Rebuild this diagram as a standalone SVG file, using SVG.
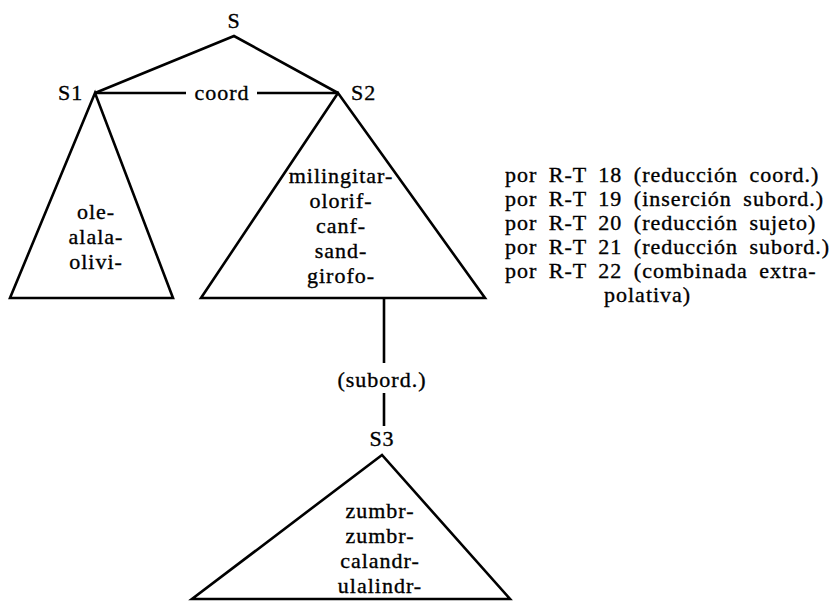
<svg xmlns="http://www.w3.org/2000/svg" width="836" height="603" viewBox="0 0 836 603" font-family="'Liberation Serif', 'DejaVu Serif', 'Times New Roman', serif">
  <style>
    text { font-family: 'Liberation Serif', 'DejaVu Serif', 'Times New Roman', serif; font-size: 22px; fill: #000; stroke: #000; stroke-width: 0.35px; letter-spacing: 1px; }
    .mid { text-anchor: middle; }
    .edge, .tri { fill: none; stroke: #000; stroke-width: 2.6; stroke-linejoin: miter; stroke-linecap: butt; }
    .tri { fill: #fff; }
    .rule { word-spacing: 5px; }
  </style>
  <rect width="836" height="603" fill="#fff"/>

  <!-- tree edges -->
  <g id="connectors">
    <polyline class="edge" points="95,93 234,36 338,93"/>
    <line class="edge" x1="95" y1="93" x2="186" y2="93"/>
    <line class="edge" x1="257" y1="93" x2="338" y2="93"/>
    <text class="mid" x="222" y="100">coord</text>
    <line class="edge" x1="384" y1="298" x2="384" y2="363"/>
    <text class="mid" x="382" y="387">(subord.)</text>
    <line class="edge" x1="384" y1="393" x2="384" y2="426"/>
  </g>

  <g id="node-S">
    <text class="mid" x="234" y="28">S</text>
  </g>

  <g id="node-S1">
    <text x="58" y="100">S1</text>
    <polygon class="tri" points="95,93 10,298 173,298"/>
    <text class="mid" x="96" y="219">ole-</text>
    <text class="mid" x="96" y="244">alala-</text>
    <text class="mid" x="96" y="269">olivi-</text>
  </g>

  <g id="node-S2">
    <text x="351" y="100">S2</text>
    <polygon class="tri" points="338,93 201,298 485,298"/>
    <text class="mid" x="341" y="183">milingitar-</text>
    <text class="mid" x="341" y="208">olorif-</text>
    <text class="mid" x="341" y="233">canf-</text>
    <text class="mid" x="341" y="258">sand-</text>
    <text class="mid" x="341" y="283">girofo-</text>
  </g>

  <g id="node-S3">
    <text class="mid" x="382" y="446">S3</text>
    <polygon class="tri" points="382,455 192,599 510,599"/>
    <text class="mid" x="380" y="518">zumbr-</text>
    <text class="mid" x="380" y="543">zumbr-</text>
    <text class="mid" x="380" y="568">calandr-</text>
    <text class="mid" x="380" y="593">ulalindr-</text>
  </g>

  <!-- transformation rules applied -->
  <g id="rules">
    <text class="rule" x="505" y="182">por R-T 18 (reducción coord.)</text>
    <text class="rule" x="505" y="206">por R-T 19 (inserción subord.)</text>
    <text class="rule" x="505" y="230">por R-T 20 (reducción sujeto)</text>
    <text class="rule" x="505" y="254">por R-T 21 (reducción subord.)</text>
    <text class="rule" x="505" y="278">por R-T 22 (combinada extra-</text>
    <text class="rule" x="604" y="302">polativa)</text>
  </g>
</svg>
